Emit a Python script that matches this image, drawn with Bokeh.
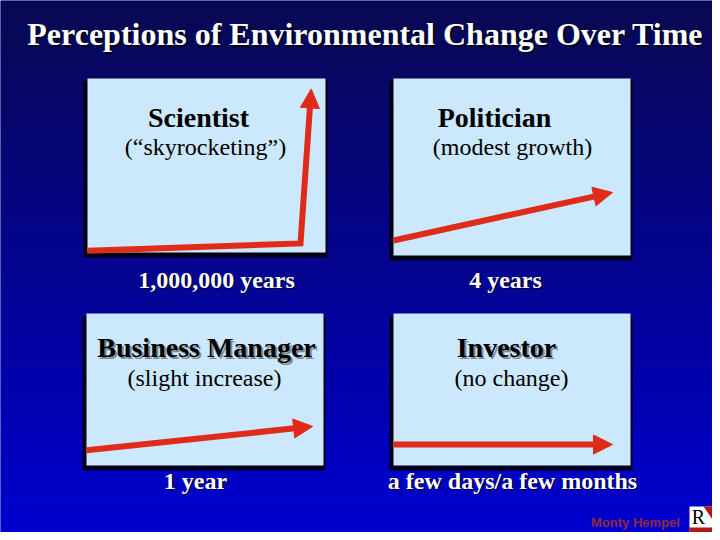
from bokeh.plotting import figure
from bokeh.models import Range1d, Arrow, NormalHead
from bokeh.core.properties import value
from bokeh.embed import file_html
from bokeh.resources import INLINE
import math

# ---------------- data ----------------
title_text = "Perceptions of Environmental Change Over Time"
panel_names = ["Scientist", "Politician", "Business Manager", "Investor"]
panel_notes = ["(\u201cskyrocketing\u201d)", "(modest growth)", "(slight increase)", "(no change)"]
time_scales = ["1,000,000 years", "4 years", "1 year", "a few days/a few months"]
# perceived change paths, in panel-relative units (x: 0..1 time, y: 0..1 change)
path_x = [[0.0, 0.895, 0.94], [0.0, 0.924], [0.0, 0.954], [0.0, 0.924]]
path_y = [[0.01, 0.052, 0.94], [0.085, 0.356], [0.10, 0.257], [0.138, 0.138]]
credit = "Monty Hempel"

# ---------------- layout / style ----------------
W, H = 712, 532
p = figure(width=W, height=H, output_backend="svg", toolbar_location=None,
           x_range=Range1d(0, W), y_range=Range1d(H, 0),
           min_border=0, outline_line_color=None)
p.axis.visible = False
p.grid.visible = False
p.background_fill_color = "#000080"
p.border_fill_color = "#000080"

# background gradient
top = (8, 8, 82)
bot = (0, 0, 208)
n = 60
for i in range(n):
    t = i / (n - 1)
    c = tuple(int(round(top[k] + (bot[k] - top[k]) * t)) for k in range(3))
    y0 = i * 540 / n
    p.quad(left=0, right=720, top=y0, bottom=y0 + 540 / n + 1,
           fill_color="#%02x%02x%02x" % c, line_color=None)

# panel boxes (left, right, top, bottom) in page pixels
boxes = [(87, 325, 78, 252), (393, 630, 78, 255), (86, 323, 313, 465), (393, 630, 313, 465)]
head_xy = [(198, 116.5), (494, 116.5), (206, 346.5), (506, 346.5)]
note_xy = [(205, 146.5), (512, 146.5), (204, 377), (511, 377)]
scale_xy = [(216, 279), (505, 279), (195, 480), (512, 480)]

RED = "#e02a1a"
PANEL = "#cce8fc"
SERIF = value("Liberation Serif")

for i, (l, r, t, b) in enumerate(boxes):
    # shadow
    p.quad(left=l - 4, right=r + 2, top=t + 3, bottom=b + 5, fill_color="black",
           line_color=None, fill_alpha=0.85)
    p.quad(left=l, right=r, top=t, bottom=b, fill_color=PANEL, line_color=None)
    # path
    xs = [l + (r - l) * v for v in path_x[i]]
    ys = [b - (b - t) * v for v in path_y[i]]
    hl = 19
    dx, dy = xs[-1] - xs[-2], ys[-1] - ys[-2]
    d = math.hypot(dx, dy)
    xe, ye = xs[-1] - dx / d * (hl - 1), ys[-1] - dy / d * (hl - 1)
    p.line(xs[:-1] + [xe], ys[:-1] + [ye], line_color=RED, line_width=6,
           line_join="miter")
    p.add_layout(Arrow(end=NormalHead(size=hl, fill_color=RED, line_color=RED, line_width=1),
                       x_start=xs[-2], y_start=ys[-2], x_end=xs[-1], y_end=ys[-1],
                       line_alpha=0))

    hx, hy = head_xy[i]
    if i >= 2:
        p.text(x=[hx + 2], y=[hy + 2], text=[panel_names[i]], text_font=SERIF,
               text_font_style="bold", text_font_size="28px", text_color="#7f8a95",
               text_align="center", text_baseline="middle")
    p.text(x=[hx], y=[hy], text=[panel_names[i]], text_font=SERIF,
           text_font_style="bold", text_font_size="28px", text_color="black",
           text_align="center", text_baseline="middle")
    nx, ny = note_xy[i]
    p.text(x=[nx], y=[ny], text=[panel_notes[i]], text_font=SERIF,
           text_font_size="24px", text_color="black",
           text_align="center", text_baseline="middle")
    sx, sy = scale_xy[i]
    p.text(x=[sx + 1.5], y=[sy + 1.5], text=[time_scales[i]], text_font=SERIF,
           text_font_style="bold", text_font_size="24px", text_color="#000030",
           text_align="center", text_baseline="middle")
    p.text(x=[sx], y=[sy], text=[time_scales[i]], text_font=SERIF,
           text_font_style="bold", text_font_size="24px", text_color="white",
           text_align="center", text_baseline="middle")

# title
p.text(x=[367], y=[35], text=[title_text], text_font=SERIF, text_font_style="bold",
       text_font_size="32px", text_color="#000018", text_align="center",
       text_baseline="middle")
p.text(x=[365], y=[33], text=[title_text], text_font=SERIF, text_font_style="bold",
       text_font_size="32px", text_color="white", text_align="center",
       text_baseline="middle")

# credit
p.text(x=[635], y=[522], text=[credit], text_font=value("Liberation Sans"),
       text_font_style="bold", text_font_size="13px", text_color="#8c2a3c",
       text_align="center", text_baseline="middle")
# small logo
p.quad(left=689, right=712, top=506, bottom=532, fill_color="white", line_color=None)
p.patch([703, 712, 712], [506, 506, 519], fill_color="#b01818", line_color=None)
p.quad(left=689, right=712, top=527, bottom=532, fill_color="#b01818", line_color=None)
p.text(x=[698], y=[516], text=["R"], text_font=SERIF, text_font_size="20px",
       text_color="black", text_align="center", text_baseline="middle")

open("out.html", "w").write(file_html(p, INLINE))
